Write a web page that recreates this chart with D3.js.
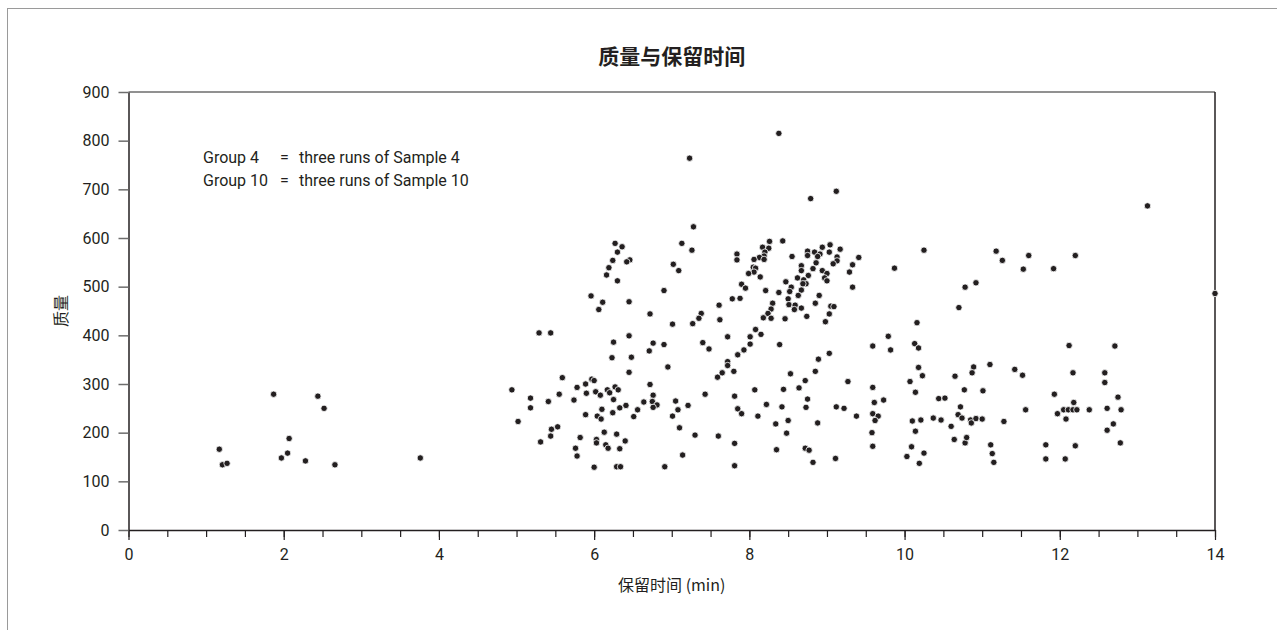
<!DOCTYPE html>
<html>
<head>
<meta charset="utf-8">
<script src="https://cdn.jsdelivr.net/npm/d3@7"></script>
<style>
  body { margin: 0; background: #fff; }
  svg { display: block; }
</style>
</head>
<body>
<div id="chart"></div>
<script>
// Data: retention time (min), mass
const peaks = [
  [1.17,166],[1.21,134],[1.27,137],[1.87,279],[1.97,148],[2.05,158],[2.07,188],[2.28,142],[2.44,275],[2.52,250],[2.66,134],[3.76,148],
  [5.29,405],[5.44,405],[6.45,399],[6.25,386],[6.76,384],[6.90,381],[7.40,385],[7.72,397],[7.48,372],[6.71,368],[7.85,360],[6.23,354],
  [6.48,355],[7.72,346],[7.72,338],[6.95,335],[6.45,324],[7.65,323],[7.59,314],[7.80,326],[5.59,313],[5.97,310],[6.00,307],[5.89,300],
  [5.78,293],[4.94,288],[6.27,294],[6.17,288],[6.31,288],[6.72,299],[6.02,284],[6.20,282],[5.90,281],[6.08,277],[5.55,279],[7.43,279],
  [6.76,277],[7.81,275],[5.18,271],[5.41,264],[5.74,267],[6.25,268],[7.05,265],[6.75,264],[6.64,263],[6.81,257],[6.76,252],[6.41,256],
  [7.21,256],[6.33,251],[6.10,248],[6.56,247],[7.08,247],[7.85,249],[5.18,251],[6.24,241],[5.89,237],[6.04,234],[6.09,228],[6.51,233],
  [7.01,234],[5.02,223],[7.10,210],[5.53,212],[5.45,207],[5.44,193],[5.31,181],[5.82,190],[6.13,201],[6.29,197],[6.03,186],[6.03,179],
  [6.40,183],[7.30,195],[7.60,193],[7.81,178],[5.76,168],[6.15,175],[6.18,168],[6.33,167],[5.78,152],[7.14,154],[6.00,129],[6.29,130],
  [6.34,130],[6.91,130],[7.81,132],
  [8.35,165],[8.48,199],[8.72,168],[8.77,164],[8.82,139],[9.11,147],[9.58,200],[9.59,172],[10.03,151],[10.09,171],[10.14,203],[10.19,137],
  [10.25,158],[10.64,186],[10.78,179],[10.80,190],[11.11,175],[11.13,157],[11.15,139],[11.82,175],[11.82,146],[12.07,146],[12.20,173],
  [12.61,205],[12.78,179],
  [7.28,623],[6.27,589],[6.36,582],[6.30,571],[7.13,589],[7.26,575],[7.84,567],[7.84,555],[6.24,554],[6.46,555],[6.42,551],[7.02,546],
  [6.19,539],[7.09,533],[6.16,524],[6.30,512],[6.90,492],[5.96,481],[6.11,468],[6.45,469],[7.78,475],[6.06,453],[6.72,444],[7.61,462],
  [7.38,445],[7.35,435],[7.62,432],[7.01,423],[7.27,424],
  [8.79,681],[8.43,594],[8.26,593],[8.17,581],[8.25,579],[8.20,571],[8.19,563],[8.13,560],[8.06,556],[8.19,556],[8.55,562],[8.75,573],
  [8.84,571],[8.75,564],[8.91,567],[8.88,562],[8.94,581],[9.04,586],[9.03,571],[9.17,577],[9.13,561],[9.13,553],[9.08,547],[9.41,560],
  [8.86,549],[9.33,545],[8.67,543],[8.67,533],[8.82,537],[8.94,533],[9.29,530],[9.00,527],[8.05,540],[8.08,538],[8.06,530],[7.99,527],
  [8.14,520],[8.76,523],[8.62,518],[8.97,518],[9.00,512],[8.70,514],[8.73,506],[8.47,510],[7.90,505],[7.95,497],[8.54,499],[8.69,506],
  [8.21,492],[8.38,488],[8.52,490],[8.67,493],[9.33,499],[9.87,538],[10.25,575],[8.63,482],[8.90,482],[7.88,476],[8.50,475],[8.85,466],
  [8.30,466],[8.51,463],[8.59,462],[8.28,454],[8.67,456],[8.58,453],[9.05,460],[9.09,459],[8.24,445],[9.03,444],[8.18,436],[8.28,435],
  [8.46,434],[8.74,439],[8.98,428],[10.16,426],[8.08,412],[8.01,397],[8.15,402],[9.79,398],
  [8.01,382],[7.93,370],[8.39,381],[9.59,378],[9.82,370],[10.13,383],[10.18,374],[9.03,363],[8.89,351],[8.53,321],[8.85,326],[8.72,307],
  [9.27,305],[10.18,334],[10.23,317],[10.07,305],[10.65,316],[10.89,335],[10.87,323],[11.10,340],[8.07,288],[8.44,289],[8.64,292],[9.59,293],
  [10.14,283],[10.77,288],[11.01,286],[8.75,269],[9.61,262],[9.73,267],[10.44,270],[10.52,271],[7.90,239],[8.22,258],[8.42,253],[8.73,252],
  [9.12,253],[9.22,250],[9.59,239],[9.66,234],[9.62,225],[9.38,234],[10.72,253],[10.69,237],[10.74,230],[10.37,230],[10.47,226],[10.10,224],
  [10.21,226],[10.85,226],[10.86,220],[10.92,229],[11.00,228],[10.60,213],[8.11,234],[8.34,218],[8.50,225],[8.88,220],
  [12.12,379],[12.71,378],[11.42,330],[11.52,318],[12.17,323],[12.58,323],[12.58,303],[11.93,279],[12.75,273],[12.18,262],[11.56,247],
  [12.05,247],[12.11,247],[12.17,247],[12.22,247],[12.38,247],[12.61,250],[12.79,247],[11.97,239],[12.08,228],[11.28,223],[12.69,218],
  [13.13,666],[11.18,573],[11.26,554],[11.60,564],[12.20,564],[11.53,536],[11.92,537],[10.78,499],[10.92,508],[10.70,457],[14.0,486],
  [7.23,764],[8.38,815],[9.12,696]
]

const xTicks = [0, 2, 4, 6, 8, 10, 12, 14]
const xMinorTicks = d3.range(0, 14.01, 0.5)
const yTicks = [0, 100, 200, 300, 400, 500, 600, 700, 800, 900]
const legendLines = [
  ['Group 4', '=', 'three runs of Sample 4'],
  ['Group 10', '=', 'three runs of Sample 10']
]
const title = '质量与保留时间'
const xLabel = '保留时间 (min)'
const yLabel = '质量'

const xAccessor = d => d[0]
const yAccessor = d => d[1]

// Dimensions
const dimensions = {
  width: 1277,
  height: 630,
  left: 128.5,
  right: 1215,
  top: 92,
  bottom: 530
}

const numFont = 'Roboto, "Liberation Sans", sans-serif'
const cjkFont = '"Noto Sans CJK SC", "Noto Sans", sans-serif'

const svg = d3.select('#chart')
  .append('svg')
  .attr('width', dimensions.width)
  .attr('height', dimensions.height)

// outer frame
svg.append('rect')
  .attr('x', 7.5)
  .attr('y', 8.5)
  .attr('width', dimensions.width + 20)
  .attr('height', dimensions.height + 20)
  .attr('fill', 'none')
  .attr('stroke', '#9a9a9a')
  .attr('stroke-width', 1)

// Scales
const xScale = d3.scaleLinear()
  .domain([0, 14])
  .range([dimensions.left, dimensions.right])

const yScale = d3.scaleLinear()
  .domain([0, 900])
  .range([dimensions.bottom, dimensions.top])

// plot box top / right
svg.append('line')
  .attr('x1', dimensions.left).attr('x2', dimensions.right)
  .attr('y1', dimensions.top).attr('y2', dimensions.top)
  .attr('stroke', '#6d6d6d').attr('stroke-width', 1.5)

svg.append('line')
  .attr('x1', dimensions.right).attr('x2', dimensions.right)
  .attr('y1', dimensions.top).attr('y2', dimensions.bottom)
  .attr('stroke', '#231f20').attr('stroke-width', 1.5)

// Axes
const xMinor = d3.axisBottom(xScale)
  .tickValues(xMinorTicks)
  .tickSize(7)
  .tickFormat('')

svg.append('g')
  .attr('transform', `translate(0,${dimensions.bottom})`)
  .call(xMinor)
  .call(g => g.select('.domain').remove())
  .call(g => g.selectAll('.tick line').attr('stroke', '#231f20').attr('stroke-width', 1.2))

const xAxis = d3.axisBottom(xScale)
  .tickValues(xTicks)
  .tickSizeInner(10)
  .tickSizeOuter(0)
  .tickPadding(9)

const xAxisGroup = svg.append('g')
  .attr('transform', `translate(0,${dimensions.bottom})`)
  .call(xAxis)

xAxisGroup.select('.domain').attr('stroke', '#231f20').attr('stroke-width', 1.5)
xAxisGroup.selectAll('.tick line').attr('stroke', '#231f20').attr('stroke-width', 1.2)
xAxisGroup.selectAll('.tick text')
  .attr('font-family', numFont)
  .attr('font-size', 16)
  .attr('fill', '#231f20')

const yAxis = d3.axisLeft(yScale)
  .tickValues(yTicks)
  .tickSizeInner(10)
  .tickSizeOuter(0)
  .tickPadding(9)

const yAxisGroup = svg.append('g')
  .attr('transform', `translate(${dimensions.left},0)`)
  .call(yAxis)

yAxisGroup.select('.domain').attr('stroke', '#231f20').attr('stroke-width', 1.5)
yAxisGroup.selectAll('.tick line').attr('stroke', '#6d6d6d').attr('stroke-width', 1.5)
yAxisGroup.selectAll('.tick text')
  .attr('font-family', numFont)
  .attr('font-size', 16)
  .attr('fill', '#231f20')

// Points
svg.append('g')
  .selectAll('circle')
  .data(peaks)
  .join('circle')
  .attr('cx', d => xScale(xAccessor(d)))
  .attr('cy', d => yScale(yAccessor(d)))
  .attr('r', 3.2)
  .attr('fill', '#231f20')
  .attr('stroke', '#fff')
  .attr('stroke-width', 0.8)

// Title and labels
svg.append('text')
  .attr('x', (dimensions.left + dimensions.right) / 2)
  .attr('y', 64)
  .attr('text-anchor', 'middle')
  .attr('font-family', cjkFont)
  .attr('font-weight', 700)
  .attr('font-size', 21)
  .attr('fill', '#231f20')
  .text(title)

svg.append('text')
  .attr('x', (dimensions.left + dimensions.right) / 2)
  .attr('y', 591)
  .attr('text-anchor', 'middle')
  .attr('font-family', cjkFont)
  .attr('font-size', 16)
  .attr('fill', '#231f20')
  .text(xLabel)

svg.append('text')
  .attr('transform', `translate(67,${(dimensions.top + dimensions.bottom) / 2}) rotate(-90)`)
  .attr('text-anchor', 'middle')
  .attr('font-family', cjkFont)
  .attr('font-size', 16)
  .attr('fill', '#231f20')
  .text(yLabel)

// Legend note
const legend = svg.append('g')
  .attr('font-family', numFont)
  .attr('font-size', 16)
  .attr('fill', '#231f20')

legendLines.forEach((line, i) => {
  const y = 163 + i * 23
  legend.append('text').attr('x', 203).attr('y', y).text(line[0])
  legend.append('text').attr('x', 280).attr('y', y).text(line[1])
  legend.append('text').attr('x', 299).attr('y', y).text(line[2])
})
</script>
</body>
</html>
